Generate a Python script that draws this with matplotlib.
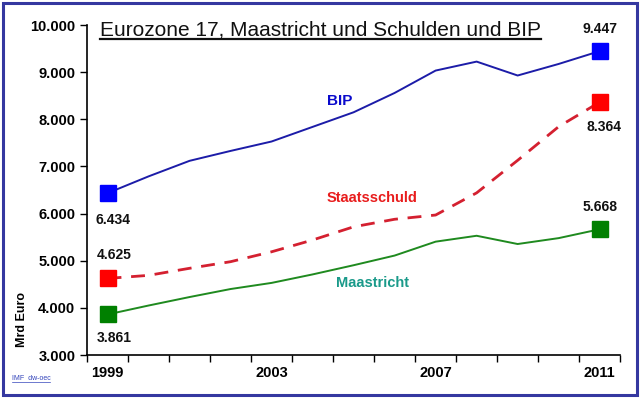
import matplotlib
matplotlib.use("Agg")
import matplotlib.pyplot as plt
from matplotlib.patches import Rectangle
from matplotlib.lines import Line2D
from matplotlib.ticker import FuncFormatter

plt.rcParams['font.family'] = ['Liberation Sans', 'DejaVu Sans']

years = list(range(1999, 2012))
bip = [6434, 6790, 7120, 7330, 7530, 7840, 8150, 8560, 9035, 9225, 8930, 9175, 9447]
staatsschuld = [4625, 4690, 4840, 4980, 5190, 5440, 5720, 5880, 5970, 6440, 7130, 7845, 8364]
maastricht = [3861, 4050, 4230, 4400, 4530, 4710, 4905, 5110, 5405, 5530, 5355, 5480, 5668]
year_labels = ["1999", "2003", "2007", "2011"]

x = list(range(len(years)))

fig = plt.figure(figsize=(6.4, 3.98), dpi=100)
ax = fig.add_axes([0.136, 0.108, 0.833, 0.829])

ax.plot(x, bip, color='#1c1ca8', lw=1.4)
ax.plot(x, staatsschuld, color='#d42030', lw=2, dashes=(5, 3.5))
ax.plot(x, maastricht, color='#1f8a1f', lw=1.4)

# end markers
for series, col in [(bip, '#0000ff'), (staatsschuld, '#ff0000'), (maastricht, '#008000')]:
    ax.plot([x[0], x[-1]], [series[0], series[-1]], ls='none', marker='s',
            ms=12, color=col, mec=col)

fmt = lambda v: f"{v:,}".replace(",", ".")
lab = dict(ha='center', fontsize=10, fontweight='bold', color='#111111',
           textcoords='offset points')
ax.annotate(fmt(bip[0]), (x[0], bip[0]), xytext=(4, -22), **lab)
ax.annotate(fmt(bip[-1]), (x[-1], bip[-1]), xytext=(0, 13), **lab)
ax.annotate(fmt(staatsschuld[0]), (x[0], staatsschuld[0]), xytext=(5, 14), **lab)
ax.annotate(fmt(staatsschuld[-1]), (x[-1], staatsschuld[-1]), xytext=(3, -21), **lab)
ax.annotate(fmt(maastricht[0]), (x[0], maastricht[0]), xytext=(5, -20), **lab)
ax.annotate(fmt(maastricht[-1]), (x[-1], maastricht[-1]), xytext=(0, 13), **lab)

ax.text(5.65, 8300, "BIP", color='#0a0acc', fontsize=11, fontweight='bold',
        ha='center', va='baseline')
ax.text(6.46, 6250, "Staatsschuld", color='#e81c1c', fontsize=10.5, fontweight='bold',
        ha='center', va='baseline')
ax.text(6.45, 4450, "Maastricht", color='#1a9a8a', fontsize=10.5, fontweight='bold',
        ha='center', va='baseline')

ax.set_xlim(-0.5, 12.5)
ax.set_ylim(3000, 10000)
ax.set_yticks(range(3000, 10001, 1000))
ax.yaxis.set_major_formatter(FuncFormatter(lambda v, p: fmt(int(v))))
ax.set_xticks([i - 0.5 for i in range(14)])
ax.set_xticklabels([])
ax.set_xticks([0, 4, 8, 12], minor=True)
ax.set_xticklabels(year_labels, minor=True)
ax.tick_params(axis='x', which='minor', length=0, pad=8)
ax.tick_params(axis='x', which='major', length=5, width=1, direction='out')
ax.tick_params(axis='y', length=5, width=1, direction='out')
for t in ax.get_xticklabels(minor=True) + ax.get_yticklabels():
    t.set_fontweight('bold')
    t.set_fontsize(10.5)
for s in ['top', 'right']:
    ax.spines[s].set_visible(False)
for s in ['left', 'bottom']:
    ax.spines[s].set_linewidth(1.2)

fig.text(0.034, 0.196, "Mrd Euro", rotation=90, ha='center', va='center',
         fontsize=9, fontweight='bold')
src = fig.text(0.018, 0.05, "IMF  dw-oec", fontsize=5, color='#3344bb', va='center')

title_y = 0.912
title = fig.text(0.501, title_y, "Eurozone 17, Maastricht und Schulden und BIP",
                 fontsize=15, ha='center', va='baseline', color='#111111')

# underline title and source
fig.canvas.draw()
r = fig.canvas.get_renderer()
bb = title.get_window_extent(r).transformed(fig.transFigure.inverted())
uy = title_y - 3.5 / 398
fig.add_artist(Line2D([bb.x0, bb.x1], [uy, uy], color='#111111', lw=1.6,
                      transform=fig.transFigure))
bb = src.get_window_extent(r).transformed(fig.transFigure.inverted())
fig.add_artist(Line2D([bb.x0, bb.x1], [bb.y0 - 0.002, bb.y0 - 0.002], color='#3344bb',
                      lw=0.5, transform=fig.transFigure))

fig.add_artist(Rectangle((0.005, 0.008), 0.99, 0.984, transform=fig.transFigure,
                         fill=False, edgecolor='#3538a0', lw=2.2))

fig.savefig("out.png", dpi=100)
